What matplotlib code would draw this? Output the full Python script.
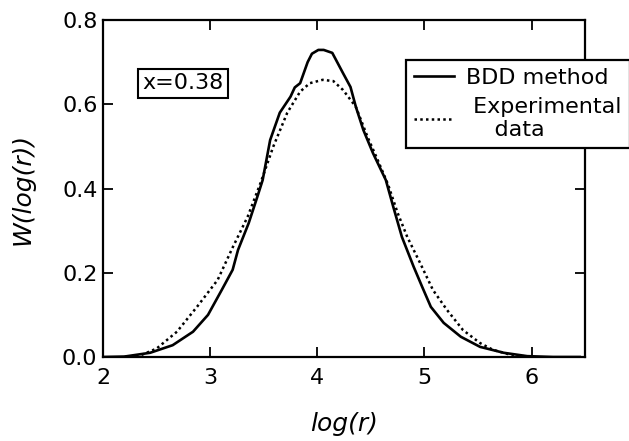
import matplotlib
matplotlib.use("Agg")
import matplotlib.pyplot as plt
from matplotlib.ticker import FormatStrFormatter

plt.rcParams["font.family"] = ["DejaVu Sans"]

# BDD method: simulated distribution of log(r)
bdd_x = [2.0, 2.2, 2.44, 2.65, 2.84, 2.98, 3.11, 3.21, 3.26, 3.36, 3.44, 3.49,
         3.56, 3.65, 3.75, 3.79, 3.84, 3.91, 3.95, 4.01, 4.06, 4.14, 4.24, 4.31,
         4.36, 4.43, 4.52, 4.64, 4.71, 4.79, 4.90, 4.98, 5.06, 5.18, 5.34, 5.52,
         5.74, 5.96, 6.2, 6.45]
bdd_y = [0.0, 0.001, 0.01, 0.028, 0.06, 0.10, 0.16, 0.207, 0.254, 0.318, 0.38, 0.42,
         0.515, 0.58, 0.618, 0.64, 0.65, 0.70, 0.72, 0.729, 0.729, 0.722, 0.674, 0.641,
         0.594, 0.539, 0.484, 0.42, 0.356, 0.285, 0.214, 0.166, 0.119, 0.081, 0.048, 0.024,
         0.01, 0.002, 0.0, 0.0]

# experimental data
exp_x = [2.2, 2.35, 2.50, 2.69, 2.88, 3.07, 3.21, 3.35, 3.47, 3.59, 3.72, 3.84,
         3.93, 4.05, 4.15, 4.24, 4.36, 4.47, 4.56, 4.66, 4.75, 4.84, 4.96, 5.08,
         5.21, 5.36, 5.52, 5.64, 5.78, 5.95]
exp_y = [0.0, 0.004, 0.02, 0.06, 0.12, 0.183, 0.26, 0.333, 0.413, 0.50, 0.58, 0.63,
         0.65, 0.658, 0.655, 0.634, 0.594, 0.522, 0.47, 0.41, 0.342, 0.285, 0.223, 0.159,
         0.112, 0.064, 0.033, 0.017, 0.007, 0.001]

x_ticks = [2, 3, 4, 5, 6]
y_ticks = [0.0, 0.2, 0.4, 0.6, 0.8]

fig = plt.figure(figsize=(6.29, 4.41), dpi=100)
ax = fig.add_axes([0.1638, 0.1905, 0.7664, 0.7641])

ax.plot(bdd_x, bdd_y, color="black", lw=1.9, label="BDD method")
ax.plot(exp_x, exp_y, color="black", lw=1.8, linestyle=(0, (1, 1.3)),
        label=" Experimental\n    data")

ax.set_xlim(2, 6.5)
ax.set_ylim(0, 0.8)
ax.set_xticks(x_ticks)
ax.set_yticks(y_ticks)
ax.yaxis.set_major_formatter(FormatStrFormatter("%.1f"))
ax.tick_params(direction="in", length=7, width=1.3, labelsize=16,
               top=True, right=True)
ax.tick_params(axis="x", pad=8)
ax.tick_params(axis="y", pad=4)
for sp in ax.spines.values():
    sp.set_linewidth(1.6)

ax.set_xlabel("log(r)", fontsize=18, fontstyle="italic", labelpad=17)
ax.set_ylabel("W(log(r))", fontsize=18, fontstyle="italic", labelpad=20)

ax.text(0.165, 0.812, "x=0.38", transform=ax.transAxes, fontsize=16,
        ha="center", va="center",
        bbox=dict(boxstyle="square,pad=0.2", fc="white", ec="black", lw=1.5))

leg = ax.legend(loc="upper left", bbox_to_anchor=(0.629, 0.881), fontsize=16,
                frameon=True, fancybox=False, framealpha=1, edgecolor="black",
                handlelength=1.8, handletextpad=0.55, borderpad=0.35,
                labelspacing=0.4, borderaxespad=0)
leg.get_frame().set_linewidth(1.6)

fig.savefig("out.png", dpi=100)
